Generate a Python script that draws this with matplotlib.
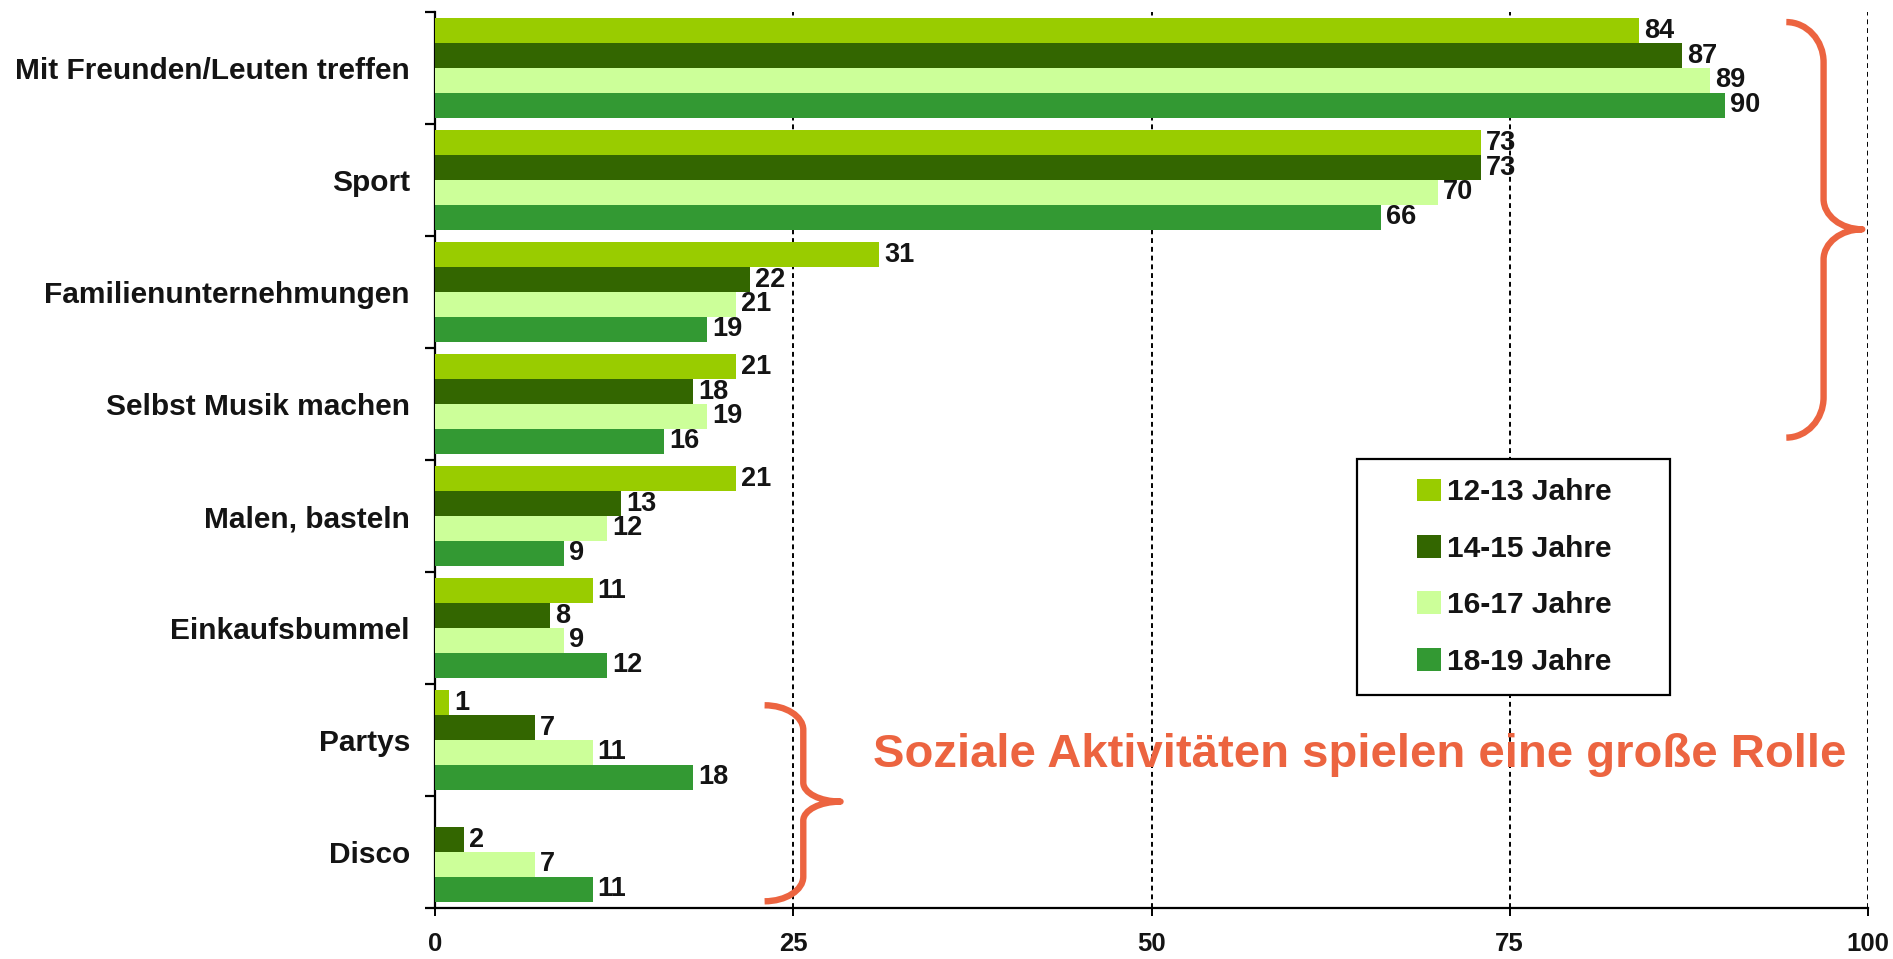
# Freizeitaktivitaeten nach Altersgruppen - horizontal grouped bar chart
import numpy as np
import matplotlib
matplotlib.use("Agg")
import matplotlib.pyplot as plt
from matplotlib.path import Path
from matplotlib.patches import PathPatch, Rectangle

plt.rcParams['font.family'] = ['Liberation Sans', 'DejaVu Sans']
plt.rcParams['font.weight'] = 'bold'

# Data
categories = ['Mit Freunden/Leuten treffen', 'Sport', 'Familienunternehmungen',
              'Selbst Musik machen', 'Malen, basteln', 'Einkaufsbummel',
              'Partys', 'Disco']
age_groups = ['12-13 Jahre', '14-15 Jahre', '16-17 Jahre', '18-19 Jahre']
val_12_13 = [84, 73, 31, 21, 21, 11, 1, np.nan]
val_14_15 = [87, 73, 22, 18, 13, 8, 7, 2]
val_16_17 = [89, 70, 21, 19, 12, 9, 11, 7]
val_18_19 = [90, 66, 19, 16, 9, 12, 18, 11]
xticks = [0, 25, 50, 75, 100]
note = 'Soziale Aktivitäten spielen eine große Rolle'

series = [val_12_13, val_14_15, val_16_17, val_18_19]
colors = ['#99CC00', '#336600', '#CCFF99', '#339933']
txt_col = '#141414'
accent = '#EC6440'

W, H = 1893, 959
fig = plt.figure(figsize=(W / 100, H / 100), dpi=100)
ax = fig.add_axes([435 / W, 1 - 908 / H, (1868 - 435) / W, (908 - 12) / H])

n = len(categories)
pos = np.arange(n)
bar_h = 0.2225
offsets = (np.arange(4) - 1.5) * bar_h

for vals, off, col, lab in zip(series, offsets, colors, age_groups):
    vals = np.array(vals, dtype=float)
    ax.barh(pos + off, np.nan_to_num(vals), height=bar_h, color=col,
            label=lab, zorder=3)
    for y, v in zip(pos + off, vals):
        if np.isnan(v):
            continue
        ax.text(v + 0.35, y, '%d' % v, va='center', ha='left', fontsize=19.5,
                fontweight='bold', color=txt_col, zorder=4)

ax.set_xlim(0, 100)
ax.set_ylim(n - 0.5, -0.5)

# axes styling
for s in ['top', 'right']:
    ax.spines[s].set_visible(False)
for s in ['left', 'bottom']:
    ax.spines[s].set_linewidth(1.6)
    ax.spines[s].set_color('black')

ax.set_xticks(xticks)
ax.set_xticklabels([str(t) for t in xticks])
ax.tick_params(axis='x', direction='out', length=6, width=1.4, pad=11,
               labelsize=18.5, labelcolor=txt_col)
ax.set_yticks(pos)
ax.set_yticklabels(categories)
ax.set_yticks(np.arange(n + 1) - 0.5, minor=True)
ax.tick_params(axis='y', which='major', length=0, pad=18, labelsize=21.5,
               labelcolor=txt_col)
ax.tick_params(axis='y', which='minor', direction='out', length=7, width=1.6)
for lbl in ax.get_xticklabels() + ax.get_yticklabels():
    lbl.set_fontweight('bold')

for t in xticks[1:]:
    ax.axvline(t, color='black', lw=1.4, ls=(0, (2.5, 2)), zorder=1)


def brace(x0, xm, xt, ytop, ymid, ybot, r, r2):
    k = 0.55
    verts = [(x0, ytop),
             (x0 + k * (xm - x0), ytop), (xm, ytop + r * (1 - k)), (xm, ytop + r),
             (xm, ymid - r2),
             (xm, ymid - r2 * (1 - k)), (xt - k * (xt - xm), ymid), (xt, ymid),
             (xt - k * (xt - xm), ymid), (xm, ymid + r2 * (1 - k)), (xm, ymid + r2),
             (xm, ybot - r),
             (xm, ybot - r * (1 - k)), (x0 + k * (xm - x0), ybot), (x0, ybot)]
    codes = [Path.MOVETO,
             Path.CURVE4, Path.CURVE4, Path.CURVE4,
             Path.LINETO,
             Path.CURVE4, Path.CURVE4, Path.CURVE4,
             Path.CURVE4, Path.CURVE4, Path.CURVE4,
             Path.LINETO,
             Path.CURVE4, Path.CURVE4, Path.CURVE4]
    ax.add_patch(PathPatch(Path(verts, codes), fill=False, edgecolor=accent,
                           lw=4.6, capstyle='butt', joinstyle='round',
                           clip_on=False, zorder=5))


# braces (data coordinates)
brace(94.3, 96.9, 99.6, -0.41, 1.44, 3.30, 0.36, 0.27)
brace(23.0, 25.7, 28.3, 5.69, 6.55, 7.44, 0.22, 0.17)

fig.text(873 / W, 1 - 767 / H, note, color=accent, fontsize=34,
         fontweight='bold', ha='left', va='baseline')

# legend with a plain square frame
fig.patches.append(Rectangle((1357 / W, 1 - 695 / H), (1670 - 1357) / W,
                             (695 - 459) / H, transform=fig.transFigure,
                             facecolor='white', edgecolor='black', lw=1.6))
leg = fig.legend(loc='center', bbox_to_anchor=(1514 / W, 1 - 577 / H),
                 frameon=False, fontsize=21.5, handlelength=0.8,
                 handleheight=0.8, handletextpad=0.2, labelspacing=0.95,
                 borderpad=0)
for t in leg.get_texts():
    t.set_color(txt_col)
    t.set_fontweight('bold')

fig.savefig('out.png', dpi=100)
